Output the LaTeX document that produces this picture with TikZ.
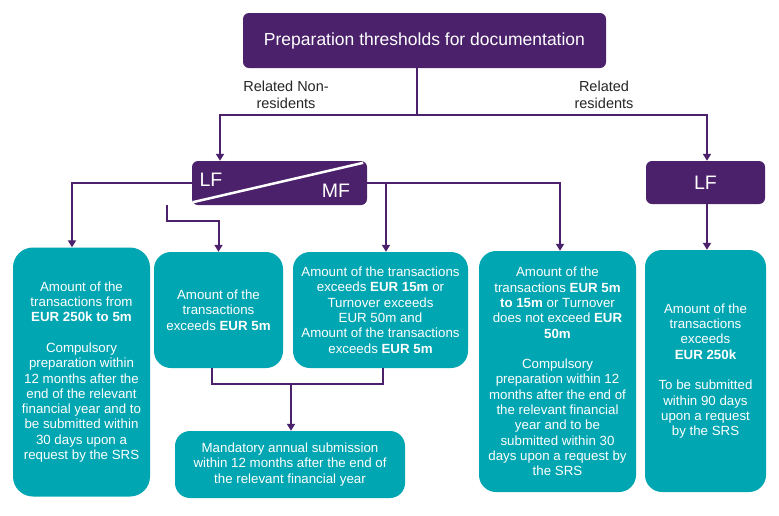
\documentclass[tikz,border=0pt]{standalone}
\usepackage{fontspec}
\setmainfont{Liberation Sans}
\usetikzlibrary{arrows.meta,calc}
\definecolor{pur}{HTML}{4B216B}
\definecolor{tealbox}{HTML}{00A6B2}
\definecolor{lab}{HTML}{262626}
\begin{document}
\begin{tikzpicture}[x=1pt,y=-1pt,
 pbox/.style={fill=pur, rounded corners=6pt, text=white, inner sep=0pt},
 tbox/.style={fill=tealbox, rounded corners=17pt, text=white, inner sep=0pt, align=center, font=\fontsize{13.3}{15.3}\selectfont},
 conn/.style={draw=pur, line width=2pt},
 arr/.style={conn, -{Triangle[width=8pt,length=7pt]}},
 lbl/.style={text=lab, align=center, font=\fontsize{14.5}{17}\selectfont},
 big/.style={text=white, inner sep=0pt, font=\fontsize{19.5}{22}\selectfont}]

\useasboundingbox (0,0) rectangle (779,515);
\fill[white] (0,0) rectangle (779,515);

\node[pbox, minimum width=363pt, minimum height=55pt, font=\fontsize{17.5}{20}\selectfont] (top) at (424.5,40.5) {Preparation thresholds for documentation};

\node[pbox, minimum width=175pt, minimum height=44pt] (lfmf) at (279.5,183) {};
\draw[white, line width=2.5pt] ([shift={(1,-3)}]lfmf.south west) -- ([shift={(-4,2)}]lfmf.north east);
\node[big] (lftxt) at (211,180) {LF};
\node[big] (mftxt) at (336,191) {MF};

\node[pbox, minimum width=119pt, minimum height=43pt, font=\fontsize{19.5}{22}\selectfont] (lfr) at (705.5,182.5) {LF};

\node[lbl] (lnr) at (286,94.5) {Related Non-\\residents};
\node[lbl] (lr) at (604,94.5) {Related\\residents};

\node[tbox, rounded corners=20pt, minimum width=137pt, minimum height=249pt] (b1) at (81.5,372) {Amount of the\\ transactions from\\ \textbf{EUR 250k to 5m}\\[15.3pt] Compulsory\\ preparation within\\ 12 months after the\\ end of the relevant\\ financial year and to\\ be submitted within\\ 30 days upon a\\ request by the SRS};

\node[tbox, minimum width=129pt, minimum height=116pt] (b2) at (218.5,310) {Amount of the\\ transactions\\ exceeds \textbf{EUR 5m}};

\node[tbox, minimum width=175pt, minimum height=116pt] (b3) at (380.5,310) {Amount of the transactions\\ exceeds \textbf{EUR 15m} or\\ Turnover exceeds\\ EUR 50m and\\ Amount of the transactions\\ exceeds \textbf{EUR 5m}};

\node[tbox, minimum width=157pt, minimum height=241pt] (b4) at (557.5,371.5) {Amount of the\\ transactions \textbf{EUR 5m}\\ \textbf{to 15m} or Turnover\\ does not exceed \textbf{EUR}\\ \textbf{50m}\\[15.3pt] Compulsory\\ preparation within 12\\ months after the end of\\ the relevant financial\\ year and to be\\ submitted within 30\\ days upon a request by\\ the SRS};

\node[tbox, minimum width=121pt, minimum height=242pt] (b5) at (705.5,371) {Amount of the\\ transactions\\ exceeds\\ \textbf{EUR 250k}\\[15.3pt] To be submitted\\ within 90 days\\ upon a request\\ by the SRS};

\node[tbox, rounded corners=15pt, minimum width=230pt, minimum height=67pt] (b6) at (290,464.5) {Mandatory annual submission\\ within 12 months after the end of\\ the relevant financial year};

\coordinate (split) at (417,115);
\draw[conn] (top.south -| split) -- (split);
\draw[arr] (split) -| ([xshift=-59.5pt]lfmf.north);
\draw[arr] (split) -| ([xshift=1.5pt]lfr.north);

\draw[arr] (lfmf.west) -| ([xshift=-9.5pt]b1.north);
\draw[arr] ([xshift=-112.5pt]lfmf.south) -- ++(0,16) -| (b2.north);
\draw[arr] (lfmf.east) -| ([xshift=5.5pt]b3.north);
\draw[arr] (lfmf.east) -| ([xshift=2.5pt]b4.north);
\draw[arr] ([xshift=1.5pt]lfr.south) -- ([xshift=1.5pt]b5.north);

\coordinate (join) at (291,384);
\draw[conn] ([xshift=-6.5pt]b2.south) |- (join);
\draw[conn] ([xshift=2.5pt]b3.south) |- (join);
\draw[arr] (join) -- (join |- b6.north);
\end{tikzpicture}
\end{document}
